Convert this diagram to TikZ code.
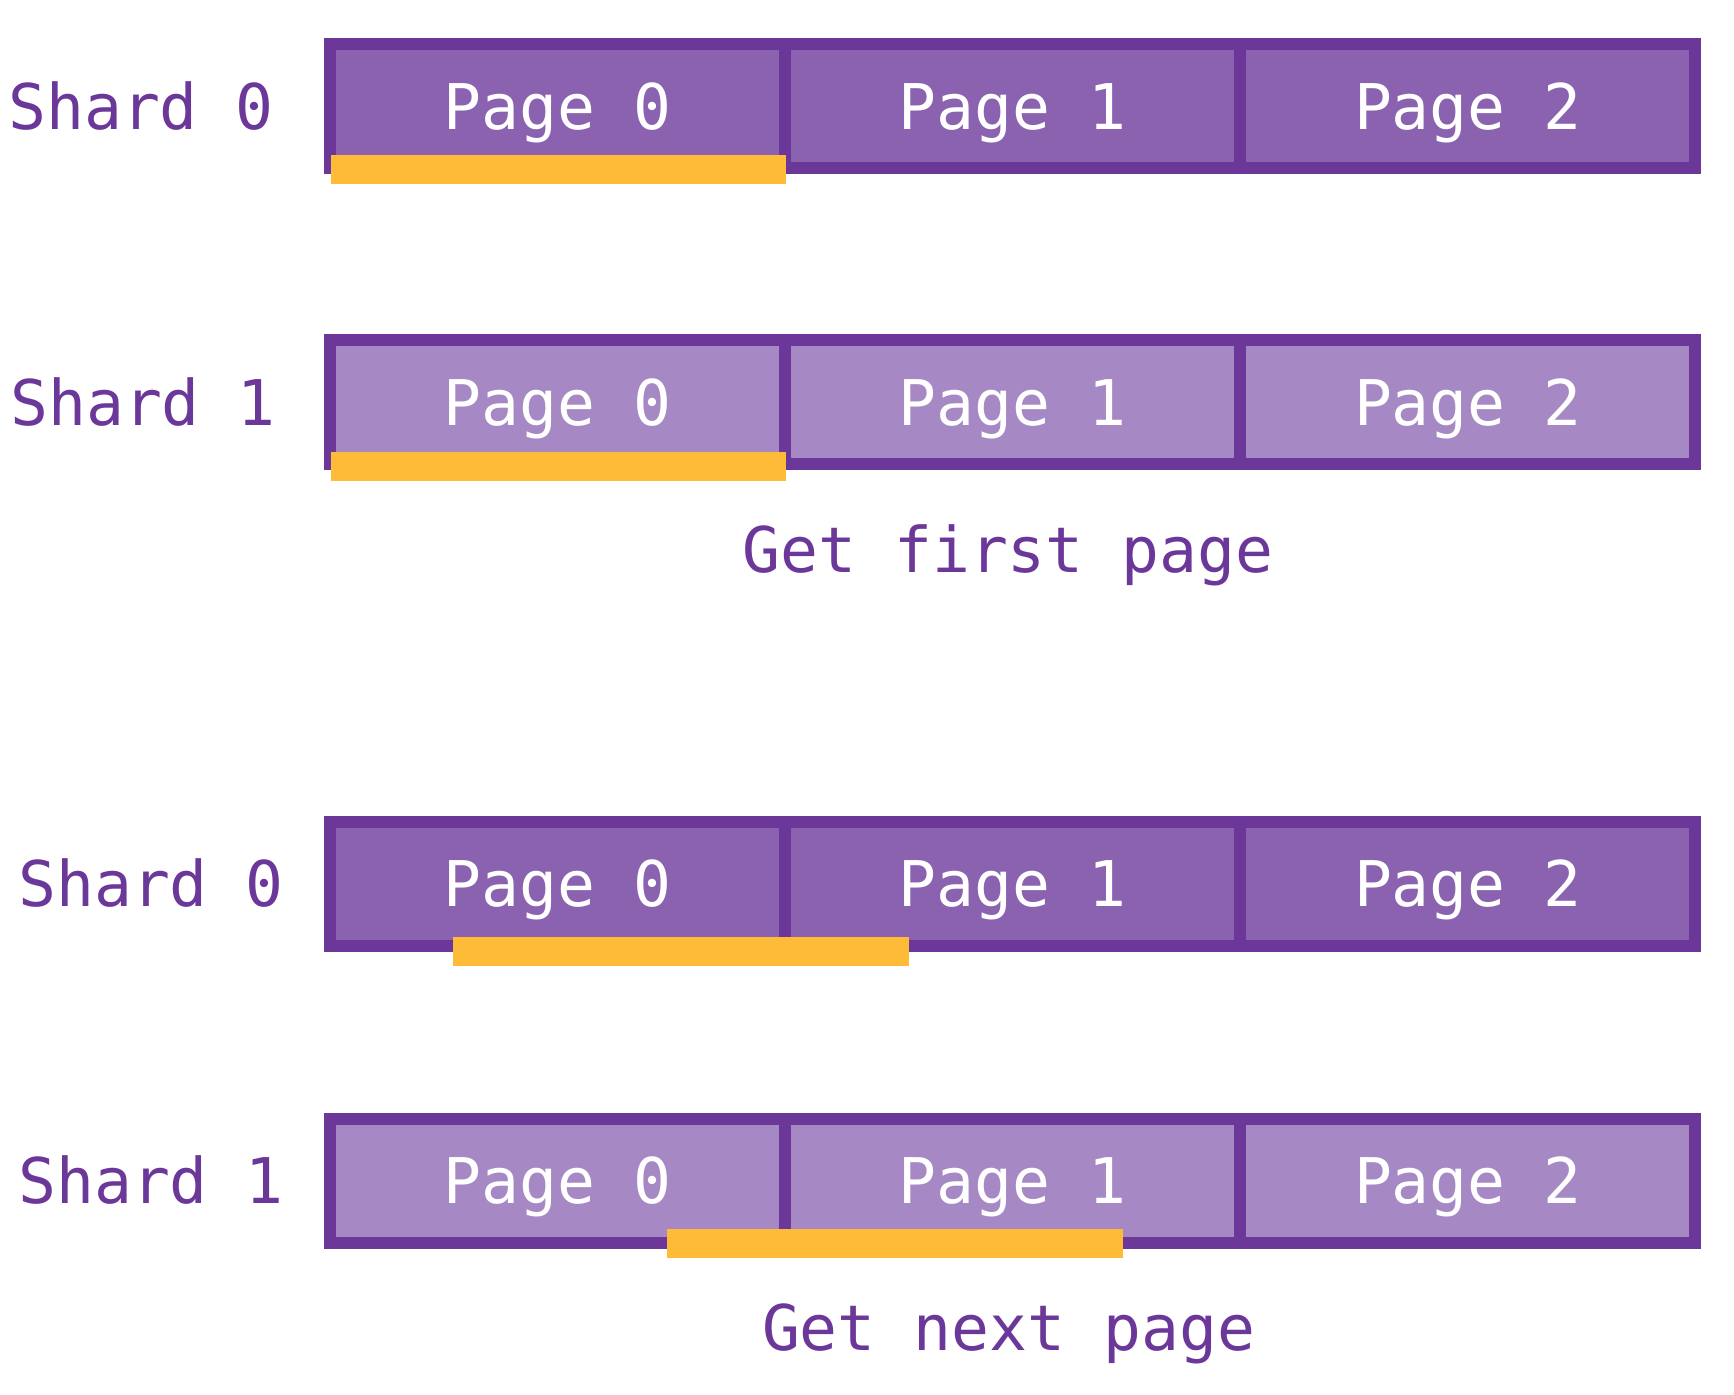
\documentclass[tikz,border=0pt]{standalone}
\usepackage{fontspec}
\newfontfamily\monofnt{DejaVu Sans Mono}
\definecolor{framec}{HTML}{6B389A}
\definecolor{darkc}{HTML}{8A62B0}
\definecolor{lightc}{HTML}{A689C4}
\definecolor{barc}{HTML}{FDBB38}
\begin{document}
\begin{tikzpicture}[x=0.5pt,y=-0.5pt,
  txt/.style={font=\monofnt\fontsize{31.5}{38}\selectfont, text height=23pt, text depth=0pt, inner sep=0pt},
  cell/.style={txt, draw=framec, line width=6pt, minimum width=227.65pt, minimum height=62pt, text=white},
  darkcell/.style={cell, fill=darkc},
  lightcell/.style={cell, fill=lightc},
  lbl/.style={txt, text=framec},
  bar/.style={fill=barc, inner sep=0pt, minimum width=227.8pt, minimum height=14.5pt}]
\useasboundingbox (0,0) rectangle (1734,1394);
% row 1
\node[darkcell] (a0) at (557.2,106.2) {Page 0};
\node[darkcell] (a1) at (1012.5,106.2) {Page 1};
\node[darkcell] (a2) at (1467.8,106.2) {Page 2};
% row 2
\node[lightcell] (b0) at (557.2,402) {Page 0};
\node[lightcell] (b1) at (1012.5,402) {Page 1};
\node[lightcell] (b2) at (1467.8,402) {Page 2};
% row 3
\node[darkcell] (c0) at (557.2,883.6) {Page 0};
\node[darkcell] (c1) at (1012.5,883.6) {Page 1};
\node[darkcell] (c2) at (1467.8,883.6) {Page 2};
% row 4
\node[lightcell] (d0) at (557.2,1180.5) {Page 0};
\node[lightcell] (d1) at (1012.5,1180.5) {Page 1};
\node[lightcell] (d2) at (1467.8,1180.5) {Page 2};
% bars
\node[bar] (ba) at (558.5,169.7) {};
\node[bar] (bb) at (558.5,466) {};
\node[bar] (bc) at (681.2,951.6) {};
\node[bar] (bd) at (894.7,1243.5) {};
% labels
\node[lbl] (la) at (141,106.2) {Shard 0};
\node[lbl] (lb) at (143,402) {Shard 1};
\node[lbl] (lc) at (151,883.6) {Shard 0};
\node[lbl] (ld) at (151,1180.5) {Shard 1};
\node[lbl] (g1) at (1008,549) {Get first page};
\node[lbl] (g2) at (1008.6,1327) {Get next page};
\end{tikzpicture}
\end{document}
